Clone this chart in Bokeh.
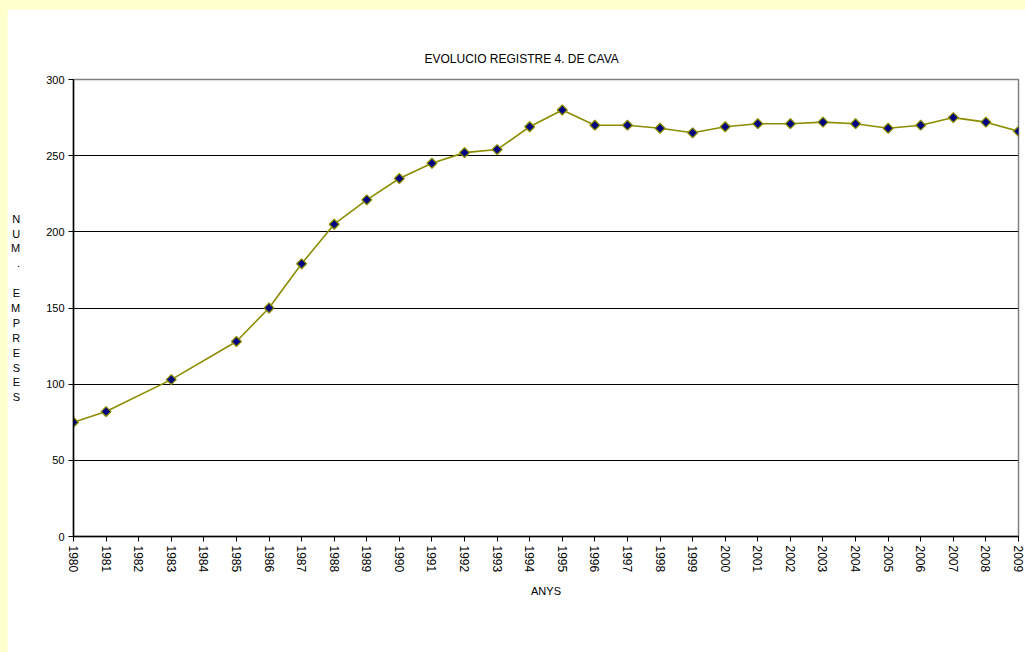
import math
from bokeh.plotting import figure
from bokeh.models import Range1d, FixedTicker
from bokeh.embed import file_html
from bokeh.resources import INLINE

years = [1980, 1981, 1983, 1985, 1986, 1987, 1988, 1989, 1990, 1991, 1992, 1993,
         1994, 1995, 1996, 1997, 1998, 1999, 2000, 2001, 2002, 2003, 2004, 2005,
         2006, 2007, 2008, 2009]
empreses = [75, 82, 103, 128, 150, 179, 205, 221, 235, 245, 252, 254,
            269, 280, 270, 270, 268, 265, 269, 271, 271, 272, 271, 268,
            270, 275, 272, 266]
year_ticks = list(range(1980, 2010))
y_ticks = [0, 50, 100, 150, 200, 250, 300]
grid_ticks = [50, 100, 150, 200, 250]

title_text = "EVOLUCIO  REGISTRE  4.  DE  CAVA"
x_label = "ANYS"
y_label = "N\nU\nM\n.\n\nE\nM\nP\nR\nE\nS\nE\nS"

FONT = "Liberation Sans"

p = figure(width=1018, height=643, output_backend="svg", toolbar_location=None,
           x_range=Range1d(1980, 2009), y_range=Range1d(0, 300),
           min_border_left=65, min_border_right=7, min_border_top=70,
           min_border_bottom=116, background_fill_color="white",
           border_fill_color="white")
p.styles = {"margin-left": "7px", "margin-top": "9px"}

p.title.text = title_text
p.title.align = "left"
p.title.offset = 351
p.title.standoff = 27
p.title.text_font = FONT
p.title.text_font_size = "12px"
p.title.text_font_style = "normal"
p.title.text_color = "black"

p.outline_line_color = "#808080"
p.outline_line_width = 1.5

p.xgrid.visible = False
p.ygrid.ticker = FixedTicker(ticks=grid_ticks)
p.ygrid.grid_line_color = "black"
p.ygrid.grid_line_width = 1

for ax in (p.xaxis[0], p.yaxis[0]):
    ax.axis_line_color = "black"
    ax.axis_line_width = 1.5
    ax.major_tick_line_color = "black"
    ax.major_tick_out = 5
    ax.major_tick_in = 0
    ax.minor_tick_line_color = None
    ax.major_label_text_font = FONT
    ax.major_label_text_color = "black"
    ax.axis_label_text_font = FONT
    ax.axis_label_text_font_size = "11px"
    ax.axis_label_text_font_style = "normal"
    ax.axis_label_text_color = "black"

p.xaxis.ticker = FixedTicker(ticks=year_ticks)
p.xaxis.major_label_orientation = "vertical"
p.xaxis.major_label_standoff = 4
p.xaxis.major_label_text_font_size = "12px"
p.xaxis.axis_label = x_label
p.xaxis.axis_label_standoff = 10

p.yaxis.ticker = FixedTicker(ticks=y_ticks)
p.yaxis.major_label_standoff = 4
p.yaxis.major_label_text_font_size = "11px"
p.yaxis.axis_label = y_label
p.yaxis.axis_label_orientation = "horizontal"
p.yaxis.axis_label_text_line_height = 1.24
p.yaxis.axis_label_standoff = 23

p.line(years, empreses, line_color="#8C8C00", line_width=1.6)
p.scatter(years, empreses, marker="square", size=7, angle=math.pi / 4,
          fill_color="#000080", line_color="#8C8C00", line_width=1.3)

html = file_html(p, INLINE)
css = "<style>html, body { background-color: #FFFFCC !important; overflow: hidden !important; }</style>"
html = html.replace("</head>", css + "</head>", 1)
open("out.html", "w").write(html)
